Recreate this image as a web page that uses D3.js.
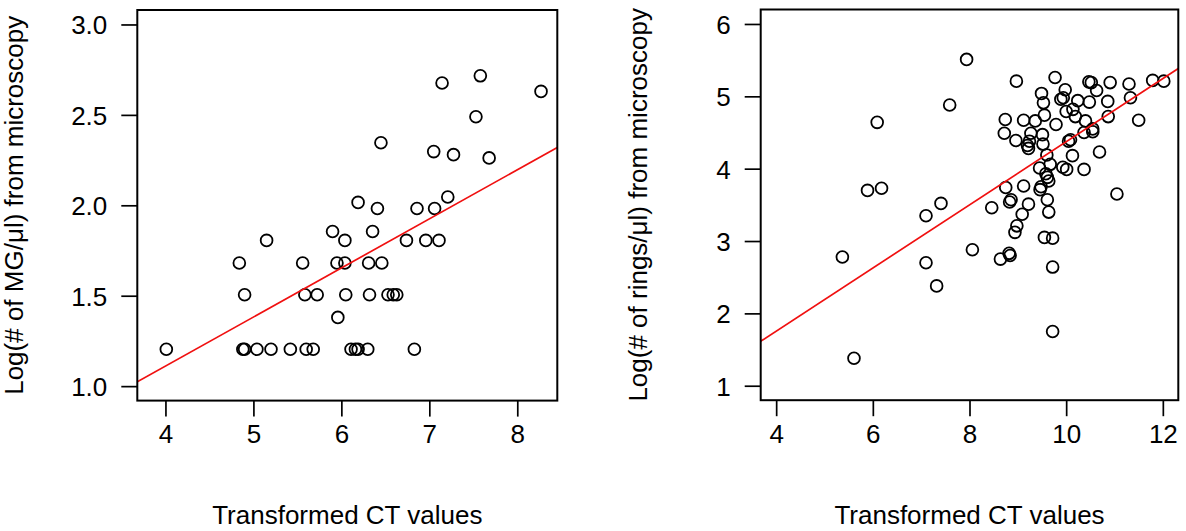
<!DOCTYPE html>
<html>
<head>
<meta charset="utf-8">
<script src="https://cdn.jsdelivr.net/npm/d3@7"></script>
<style>
  body { margin: 0; background: #fff; }
  svg { display: block; font-family: "Liberation Sans", Arial, sans-serif; }
</style>
</head>
<body>
<script>
// left panel: MG counts vs transformed CT
var mgCt = [4.01, 4.88, 4.90, 5.04, 5.20, 5.42, 5.60, 5.68, 6.11, 6.16, 6.19, 6.30, 6.83,
            4.90, 5.585, 5.725, 6.05, 6.32, 6.53, 6.59, 6.63,
            5.96,
            4.84, 5.56, 5.95, 6.04, 6.31, 6.46,
            5.15, 6.04, 6.74, 6.96, 7.11,
            5.90, 6.355,
            6.41, 6.86, 7.06, 6.19, 7.21,
            7.68, 7.275, 7.05, 6.45, 7.53, 8.27, 7.145, 7.58];
var mgLog = [1.204, 1.204, 1.204, 1.204, 1.204, 1.204, 1.204, 1.204, 1.204, 1.204, 1.204, 1.204, 1.204,
             1.505, 1.505, 1.505, 1.505, 1.505, 1.505, 1.505, 1.505,
             1.38,
             1.681, 1.681, 1.681, 1.681, 1.681, 1.681,
             1.806, 1.806, 1.806, 1.806, 1.806,
             1.855, 1.855,
             1.982, 1.982, 1.982, 2.016, 2.046,
             2.262, 2.28, 2.297, 2.346, 2.49, 2.63, 2.676, 2.716];
var mgFit = [0.025, 0.2714];   // intercept, slope
var mgXTicks = [4, 5, 6, 7, 8];
var mgYTicks = [1.0, 1.5, 2.0, 2.5, 3.0];

// right panel: rings vs transformed CT
var ringsCt = [7.94, 7.59, 6.09, 5.89, 6.18, 7.41, 7.10, 5.37, 7.10, 7.32,
               5.61, 8.06, 8.46, 8.64, 8.82, 8.84, 9.72, 9.72, 9.55, 9.72,
               8.94, 8.98, 9.09, 9.64, 9.22, 9.61, 8.86, 8.83, 8.75, 9.12,
               9.48, 9.46, 9.58, 9.61, 9.64, 9.45, 9.67, 9.93, 10.01, 10.37,
               9.60, 10.13, 10.69, 11.05, 9.24, 9.20, 9.22, 9.52, 10.05, 10.09,
               8.96, 8.72, 9.27, 9.51, 10.37, 10.55, 10.55, 8.74, 9.12, 9.36,
               9.79, 10.40, 11.50, 9.55, 10.19, 10.87, 10.00, 10.14, 9.53, 10.24,
               10.48, 10.86, 9.94, 9.89, 9.49, 9.98, 10.63, 8.97, 9.77, 10.47,
               10.52, 10.91, 11.30, 11.79, 12.02, 11.33];
var ringsLog = [5.51, 4.88, 4.64, 3.70, 3.73, 3.52, 3.35, 2.78, 2.70, 2.38,
                1.38, 2.88, 3.46, 2.75, 2.83, 2.80, 2.64, 1.75, 3.05, 3.04,
                3.12, 3.21, 3.37, 3.40, 3.51, 3.57, 3.57, 3.54, 3.74, 3.76,
                3.75, 3.71, 3.93, 3.88, 3.83, 4.01, 4.06, 4.02, 3.99, 3.99,
                4.19, 4.18, 4.23, 3.65, 4.38, 4.32, 4.28, 4.34, 4.38, 4.40,
                4.39, 4.49, 4.49, 4.47, 4.50, 4.55, 4.51, 4.68, 4.67, 4.66,
                4.61, 4.66, 4.67, 4.74, 4.72, 4.72, 4.79, 4.82, 4.91, 4.94,
                4.92, 4.93, 4.98, 4.96, 5.04, 5.09, 5.08, 5.21, 5.26, 5.20,
                5.19, 5.19, 5.17, 5.22, 5.21, 4.98];
var ringsFit = [0.009, 0.4363];
var ringsXTicks = [4, 6, 8, 10, 12];
var ringsYTicks = [1, 2, 3, 4, 5, 6];

var w = 1186, h = 531;
var fs = 26;

var svg = d3.select("body").append("svg")
    .attr("width", w)
    .attr("height", h);

// draws one R-style scatter panel
function panel(opt) {
  var x = d3.scaleLinear().domain(opt.xDomain).range([opt.left, opt.right]);
  var y = d3.scaleLinear().domain(opt.yDomain).range([opt.bottom, opt.top]);
  var g = svg.append("g");
  var clipId = "clip" + opt.id;

  g.append("clipPath").attr("id", clipId)
    .append("rect")
    .attr("x", opt.left).attr("y", opt.top)
    .attr("width", opt.right - opt.left).attr("height", opt.bottom - opt.top);

  // points
  g.selectAll("circle")
    .data(opt.xs.map(function(d, i) { return [d, opt.ys[i]]; }))
    .enter().append("circle")
    .attr("cx", function(d) { return x(d[0]); })
    .attr("cy", function(d) { return y(d[1]); })
    .attr("r", 5.9)
    .attr("fill", "none")
    .attr("stroke", "#000")
    .attr("stroke-width", 1.8);

  // fitted line across the plot region
  var x0 = opt.xDomain[0], x1 = opt.xDomain[1];
  g.append("line")
    .attr("clip-path", "url(#" + clipId + ")")
    .attr("x1", x(x0)).attr("y1", y(opt.fit[0] + opt.fit[1] * x0))
    .attr("x2", x(x1)).attr("y2", y(opt.fit[0] + opt.fit[1] * x1))
    .attr("stroke", "#f01010")
    .attr("stroke-width", 1.7);

  // box
  g.append("rect")
    .attr("x", opt.left).attr("y", opt.top)
    .attr("width", opt.right - opt.left).attr("height", opt.bottom - opt.top)
    .attr("fill", "none").attr("stroke", "#000").attr("stroke-width", 2);

  var xAxis = d3.axisBottom(x).tickValues(opt.xTicks).tickSize(16).tickPadding(8)
    .tickFormat(d3.format("d"));
  var gx = g.append("g").attr("transform", "translate(0," + opt.bottom + ")").call(xAxis);
  var yAxis = d3.axisLeft(y).tickValues(opt.yTicks).tickSize(16).tickPadding(14)
    .tickFormat(opt.yFormat);
  var gy = g.append("g").attr("transform", "translate(" + opt.left + ",0)").call(yAxis);

  [gx, gy].forEach(function(a) {
    a.select(".domain").remove();
    a.selectAll(".tick line").attr("stroke", "#000").attr("stroke-width", 1.7);
    a.selectAll(".tick text").attr("fill", "#000")
      .style("font-size", fs + "px")
      .style("font-family", "'Liberation Sans', Arial, sans-serif");
  });
  gx.selectAll(".tick text").attr("dy", "0.71em");
  gy.selectAll(".tick text").attr("dy", "0.36em");

  g.append("text")
    .attr("x", (opt.left + opt.right) / 2)
    .attr("y", 524)
    .attr("text-anchor", "middle")
    .style("font-size", fs + "px")
    .text("Transformed CT values");

  g.append("text")
    .attr("transform", "translate(" + (opt.left - 114) + "," + ((opt.top + opt.bottom) / 2) + ") rotate(-90)")
    .attr("text-anchor", "middle")
    .style("font-size", fs + "px")
    .text(opt.yLabel);
}

panel({
  id: 1, left: 137.3, right: 557.3, top: 10, bottom: 400.6,
  xDomain: [3.68, 8.455], yDomain: [0.92, 3.08],
  xs: mgCt, ys: mgLog, fit: mgFit,
  xTicks: mgXTicks, yTicks: mgYTicks, yFormat: d3.format(".1f"),
  yLabel: "Log(# of MG/\u03bcl) from microscopy"
});

panel({
  id: 2, left: 760.7, right: 1178.3, top: 9.5, bottom: 400.2,
  xDomain: [3.68, 12.32], yDomain: [0.8, 6.2],
  xs: ringsCt, ys: ringsLog, fit: ringsFit,
  xTicks: ringsXTicks, yTicks: ringsYTicks, yFormat: d3.format("d"),
  yLabel: "Log(# of rings/\u03bcl) from microscopy"
});
</script>
</body>
</html>
